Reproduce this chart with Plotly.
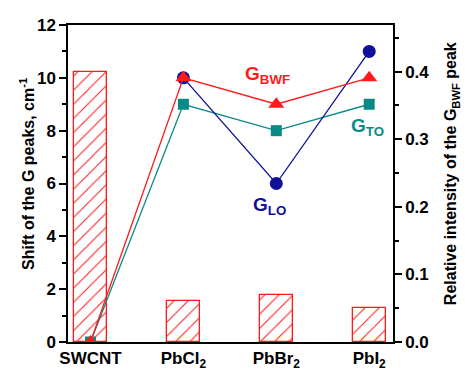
import plotly.graph_objects as go

categories = ["SWCNT", "PbCl<sub>2</sub>", "PbBr<sub>2</sub>", "PbI<sub>2</sub>"]
x_pos = [0, 1, 2, 3]
rel_intensity = [0.40, 0.06, 0.07, 0.05]
g_bwf = [0, 10, 9, 10]
g_to = [0, 9, 8, 9]
g_lo = [None, 10, 6, 11]

RED = "#FF1A1A"
TEAL = "#0A8A86"
NAVY = "#10109A"
FONT = "Liberation Sans, Arial, sans-serif"

fig = go.Figure()
fig.add_trace(go.Bar(
    x=x_pos, y=rel_intensity, width=0.355, yaxis="y",
    marker=dict(color="white", line=dict(color=RED, width=1.3),
                pattern=dict(shape="/", fgcolor=RED, bgcolor="white", fgopacity=1,
                             size=10, solidity=0.1)),
    showlegend=False))
fig.add_trace(go.Scatter(x=x_pos, y=g_to, yaxis="y2", mode="lines+markers",
                         line=dict(color=TEAL, width=1.3),
                         marker=dict(symbol="square", size=11, color=TEAL), cliponaxis=True,
                         showlegend=False))
fig.add_trace(go.Scatter(x=x_pos, y=g_lo, yaxis="y2", mode="lines+markers",
                         line=dict(color=NAVY, width=1.3),
                         marker=dict(symbol="circle", size=13, color=NAVY), cliponaxis=True,
                         showlegend=False))
fig.add_trace(go.Scatter(x=x_pos, y=g_bwf, yaxis="y2", mode="lines+markers",
                         line=dict(color=RED, width=1.3),
                         marker=dict(symbol="triangle-up", size=14, color=RED), cliponaxis=True,
                         showlegend=False))

tickfont = dict(family=FONT, size=17, color="black", weight="bold")
titlefont = dict(family=FONT, size=16, color="black", weight="bold")

fig.update_layout(
    width=471, height=383,
    margin=dict(l=60, r=86, t=17, b=49),
    plot_bgcolor="white", paper_bgcolor="white",
    font=dict(family=FONT, size=16, color="black"),
    bargap=0,
    xaxis=dict(range=[-0.242, 3.256], tickvals=x_pos, ticktext=categories,
               showline=True, linecolor="black", linewidth=1.5, mirror=True,
               ticks="", showgrid=False, zeroline=False, automargin=False,
               tickfont=tickfont),
    yaxis=dict(side="right", range=[0, 0.469], tickvals=[0, 0.1, 0.2, 0.3, 0.4],
               ticktext=["0.0", "0.1", "0.2", "0.3", "0.4"],
               ticks="outside", ticklen=7, tickwidth=1.5, tickcolor="black",
               minor=dict(tickvals=[0.05, 0.15, 0.25, 0.35, 0.45], ticks="outside",
                          ticklen=4, tickwidth=1.5, tickcolor="black"),
               showline=True, linecolor="black", linewidth=1.5,
               showgrid=False, zeroline=False, automargin=False,
               tickfont=tickfont),
    yaxis2=dict(side="left", overlaying="y", range=[0, 12], tickvals=[0, 2, 4, 6, 8, 10, 12],
                ticks="outside", ticklen=7, tickwidth=1.5, tickcolor="black",
                minor=dict(tickvals=[1, 3, 5, 7, 9, 11], ticks="outside",
                           ticklen=4, tickwidth=1.5, tickcolor="black"),
                showline=True, linecolor="black", linewidth=1.5,
                showgrid=False, zeroline=False, automargin=False,
                tickfont=tickfont),
    annotations=[
        dict(x=-0.126, y=0.53, xref="paper", yref="paper", xanchor="center", yanchor="middle",
             textangle=-90, showarrow=False, text="<b>Shift of the G peaks, cm<sup>-1</sup></b>",
             font=titlefont),
        dict(x=1.182, y=0.53, xref="paper", yref="paper", xanchor="center", yanchor="middle",
             textangle=-90, showarrow=False,
             text="<b>Relative intensity of the G<sub>BWF</sub> peak</b>", font=titlefont),
        dict(x=1.9, y=10.1, xref="x", yref="y2", text="<b>G<sub>BWF</sub></b>", showarrow=False,
             font=dict(family=FONT, size=19, color=RED, weight="bold")),
        dict(x=2.98, y=8.15, xref="x", yref="y2", text="<b>G<sub>TO</sub></b>", showarrow=False,
             font=dict(family=FONT, size=19, color=TEAL, weight="bold")),
        dict(x=1.93, y=5.15, xref="x", yref="y2", text="<b>G<sub>LO</sub></b>", showarrow=False,
             font=dict(family=FONT, size=19, color=NAVY, weight="bold")),
    ],
)

fig.write_html("out.html")
